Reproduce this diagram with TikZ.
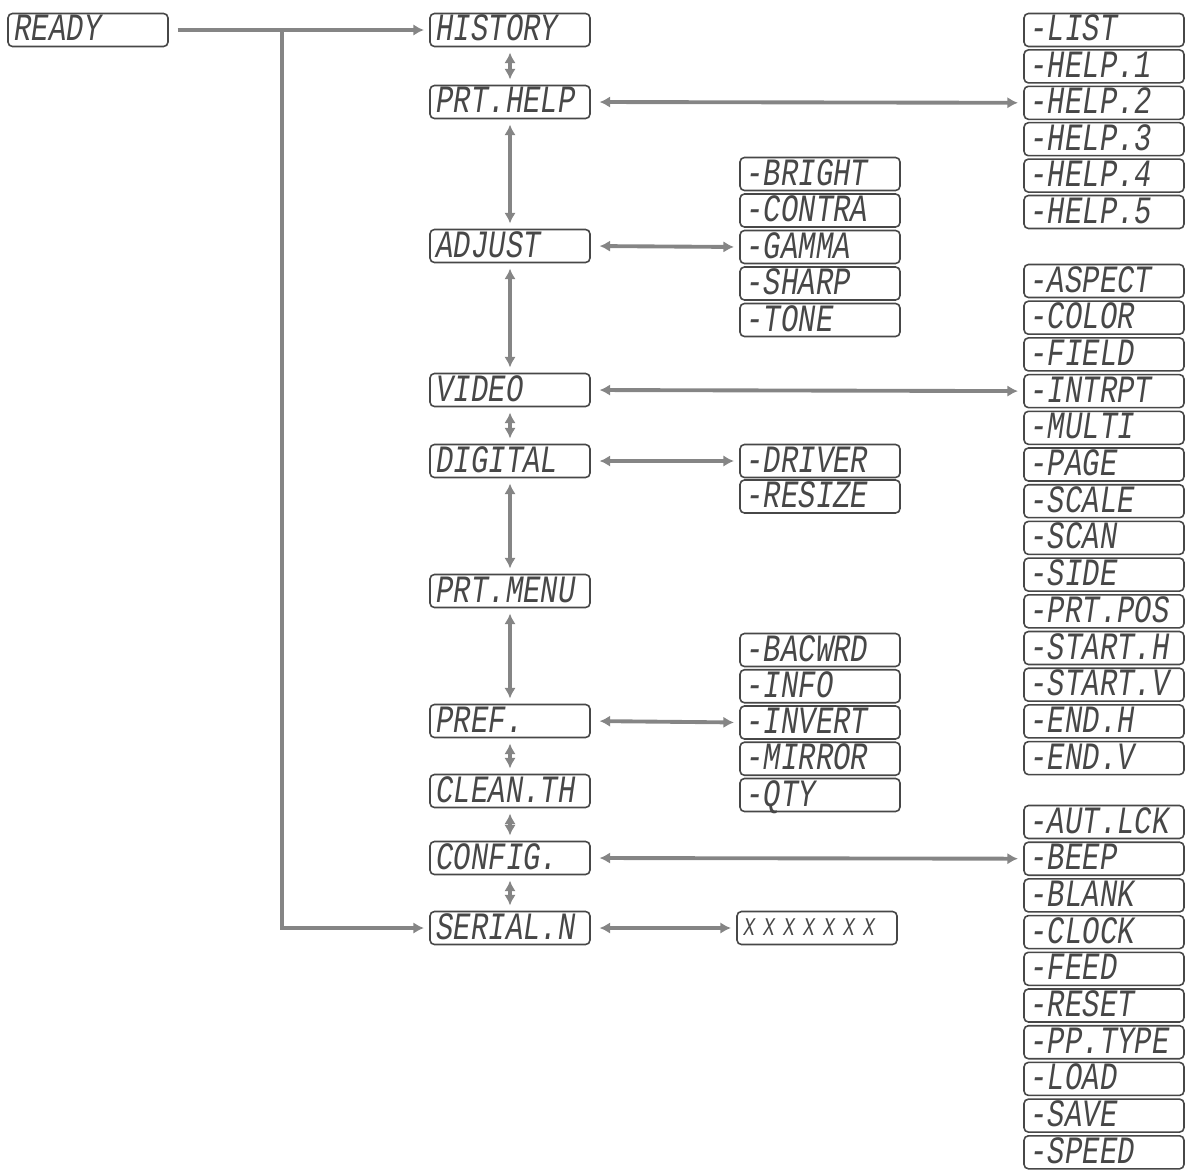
\documentclass[tikz,border=0pt]{standalone}
\usepackage{fontspec}
\newfontfamily\lcdfont{Liberation Mono}[FakeStretch=0.75]
\usetikzlibrary{arrows.meta}
\tikzset{
    lcd/.style={draw=black!72, line width=.9pt, rounded corners=2.5pt, fill=white,
        font=\lcdfont\itshape\fontsize{22}{22}\selectfont, text=black!72,
        text width=2.94cm, align=left, inner xsep=.13cm, inner ysep=0pt,
        minimum height=.66cm, text height=.44cm, text depth=0cm},
    link/.style={draw=black!48, line width=2.2pt, shorten <=3pt, shorten >=3pt},
    >={Latex[length=6pt,width=6.5pt]}
}
\begin{document}
\begin{tikzpicture}[x=.02cm, y=-.02cm]
    \useasboundingbox (0,0) rectangle (1189,1173);

    % Menú principal.
    \node[lcd] (ready) at (88,30) {READY};
    \foreach \name/\txt/\y in {hist/HISTORY/30, prthelp/PRT.HELP/102,
        adjust/ADJUST/246, video/VIDEO/390, digital/DIGITAL/461,
        prtmenu/PRT.MENU/591, pref/PREF./721, clean/CLEAN.TH/791,
        config/CONFIG./858, serial/SERIAL.N/928}
        \node[lcd] (\name) at (510,\y) {\txt};

    % Submenús.
    \foreach \txt [count=\i] in {LIST,HELP.1,HELP.2,HELP.3,HELP.4,HELP.5}
        \node[lcd] (help\i) at (1104,{30+(\i-1)*36.4}) {-\txt};
    \foreach \txt [count=\i] in {BRIGHT,CONTRA,GAMMA,SHARP,TONE}
        \node[lcd] (adj\i) at (820,{174+(\i-1)*36.5}) {-\txt};
    \foreach \txt [count=\i] in {ASPECT,COLOR,FIELD,INTRPT,MULTI,PAGE,SCALE,
        SCAN,SIDE,PRT.POS,START.H,START.V,END.H,END.V}
        \node[lcd] (vid\i) at (1104,{281+(\i-1)*36.7}) {-\txt};
    \foreach \txt [count=\i] in {DRIVER,RESIZE}
        \node[lcd] (dig\i) at (820,{461+(\i-1)*35.5}) {-\txt};
    \foreach \txt [count=\i] in {BACWRD,INFO,INVERT,MIRROR,QTY}
        \node[lcd] (pref\i) at (820,{650+(\i-1)*36.25}) {-\txt};
    \foreach \txt [count=\i] in {AUT.LCK,BEEP,BLANK,CLOCK,FEED,RESET,PP.TYPE,
        LOAD,SAVE,SPEED}
        \node[lcd] (conf\i) at (1104,{822+(\i-1)*36.7}) {-\txt};
    \node[lcd, font=\lcdfont\itshape\fontsize{14.5}{14.5}\selectfont,
        text height=.3cm] (serno) at (817,928) {X X X X X X X};

    % Conexiones.
    \coordinate (split) at (282,30);
    \draw[link,->,shorten <=5pt] (ready.east) -- (hist.west);
    \draw[link,->,shorten <=0pt] (split) |- (serial.west);
    \foreach \a/\b in {hist/prthelp, prthelp/adjust, adjust/video,
        video/digital, digital/prtmenu, prtmenu/pref, pref/clean,
        clean/config, config/serial}
        \draw[link,<->] (\a.south) -- (\b.north);
    \foreach \a/\b in {prthelp/help3, adjust/adj3, video/vid4, digital/dig1,
        pref/pref3, config/conf2, serial/serno}
        \draw[link,<->,shorten <=5pt] (\a.east) -- (\b.west);
\end{tikzpicture}
\end{document}
